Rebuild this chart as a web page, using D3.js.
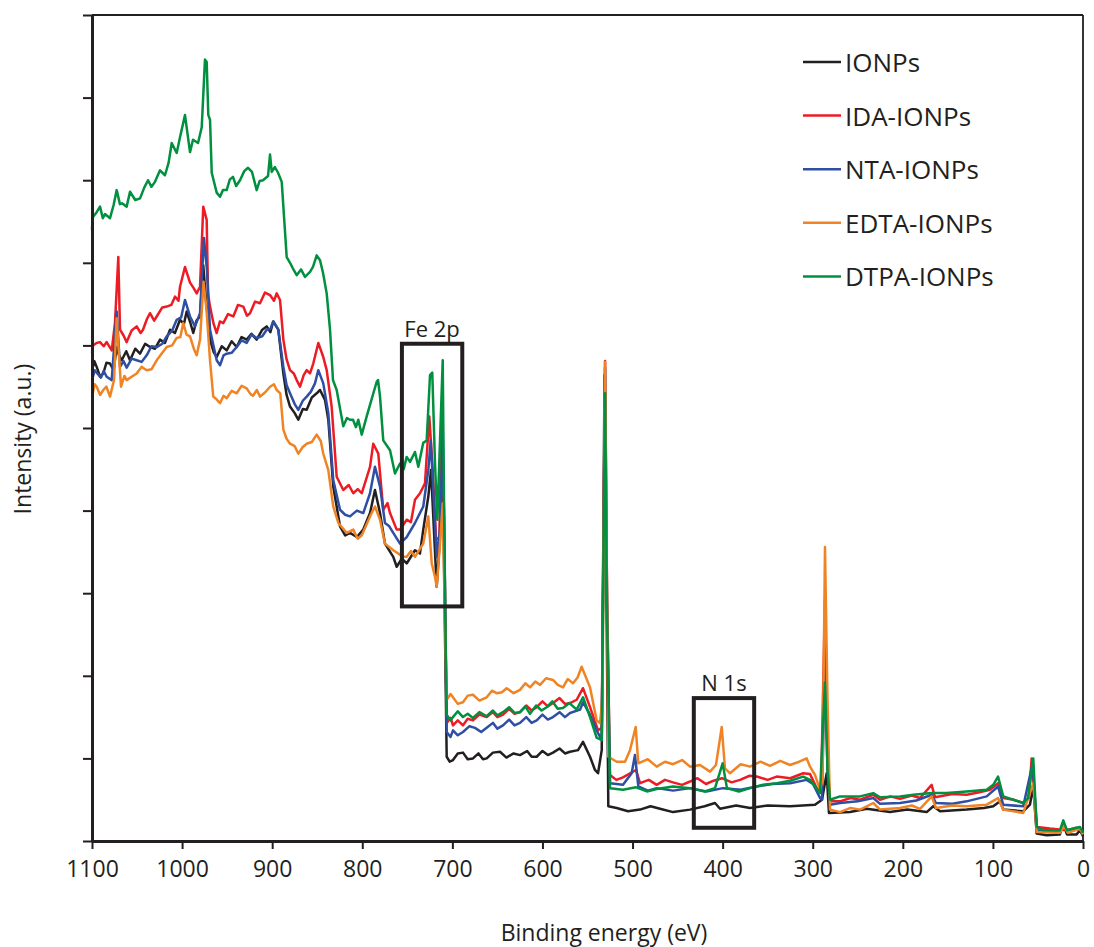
<!DOCTYPE html>
<html>
<head>
<meta charset="utf-8">
<script src="https://cdn.jsdelivr.net/npm/d3@7"></script>
<style>
  body { margin: 0; background: #fff; }
  text { font-family: "Open Sans", "Noto Sans", sans-serif; fill: #231f20; }
</style>
</head>
<body>
<div id="chart"></div>
<script>
// binding energy (eV), intensity (a.u.)
var ionps = [[1100,57.0],[1097.5,58.1],[1094.8,57.4],[1091,56.2],[1087.5,56.6],[1084,57.9],[1080,57.8],[1076,57.0],[1072.6,59.8],[1070,58.8],[1067,58.2],[1062,59.3],[1057.8,58.2],[1052,59.6],[1046.7,59.0],[1041,60.2],[1035.6,59.8],[1030,59.6],[1024.5,60.7],[1019,60.3],[1013.4,61.9],[1008,61.5],[1002.3,63.1],[998,62.6],[994.9,64.1],[991,62.8],[987.6,61.5],[984,63.0],[980.1,63.5],[976.5,69.7],[973.5,65.5],[969,60.7],[965,59.2],[961.6,58.6],[956,59.9],[950.5,59.4],[945,60.5],[939.4,59.8],[934,61.0],[928.3,60.7],[923,61.4],[917.2,60.7],[911,61.9],[906.1,62.3],[902,61.6],[898.8,62.9],[893.2,61.9],[887.6,56.6],[884,54.0],[880.2,52.6],[875,51.8],[871,51.0],[866,52.3],[861.7,52.2],[856,53.7],[850.6,54.2],[846.9,54.6],[841.4,53.4],[837.7,51.0],[832.2,42.9],[824.7,38.1],[819,37.0],[813.6,37.3],[806,36.8],[798.9,37.7],[791.4,39.7],[785.9,42.5],[780.3,39.7],[774.8,36.0],[765.6,34.4],[761.8,33.2],[756,34.2],[750.7,33.6],[741.5,35.2],[736,34.8],[732.3,37.7],[726.7,41.7],[723.7,44.9],[721.2,39.3],[717.4,30.8],[713.7,36.8],[710.7,45.8],[708.7,29.2],[706.3,10.2],[703,9.6],[699.3,9.8],[694,10.6],[688.2,10.7],[683,9.9],[677.1,10.0],[671,10.6],[666,9.9],[661.9,10.0],[655,10.7],[647.1,10.8],[640,10.1],[632,10.6],[624.9,10.4],[617,10.9],[612,10.2],[606.4,10.2],[600,10.9],[594,10.4],[588.3,10.7],[581,11.2],[575,10.6],[569.4,10.8],[560.5,11.0],[555,12.0],[547.2,10.2],[541.7,8.6],[538.3,8.2],[534.2,11.0],[531.1,56.4],[528.9,29.2],[526.9,4.2],[517.6,4.0],[505,3.6],[491.7,3.8],[480,4.2],[469.5,3.9],[455,3.5],[436.2,3.8],[420,4.2],[408.5,4.6],[402.9,3.9],[385,4.3],[369.6,4.0],[350,4.3],[325.2,4.2],[297.5,4.4],[289.7,5.0],[284.5,8.2],[282,3.4],[258.6,3.5],[240,3.9],[214.2,3.5],[195,3.8],[173.5,3.5],[166.2,4.2],[158.7,3.6],[129.1,3.8],[110,4.0],[99.6,4.2],[92.1,4.8],[88.5,3.8],[66.3,3.6],[58.9,4.4],[55.2,6.6],[51.4,0.9],[40.3,0.7],[25.6,0.8],[21.9,2.1],[17.8,0.8],[7.1,0.8],[3.4,1.3],[0,0.6]];

var idaIonps = [[1100,59.1],[1098.9,60.0],[1095,60.3],[1091.1,60.4],[1087,59.9],[1083.7,60.4],[1078.1,59.4],[1074.5,62.7],[1070.8,70.7],[1068.9,61.9],[1065,61.2],[1061.5,60.4],[1056,61.8],[1050.4,62.3],[1046,61.5],[1043.4,61.9],[1039,63.2],[1035.6,63.9],[1031,63.0],[1028.2,63.5],[1022,64.6],[1017.1,64.7],[1012,64.9],[1007.9,65.9],[1004,65.4],[1002.3,67.1],[996.8,69.5],[991.2,67.6],[987,66.9],[983.8,66.3],[980.1,67.1],[976.5,76.8],[972.7,75.2],[971.2,66.3],[969,64.7],[965,62.6],[961.6,61.5],[958,62.9],[954.3,62.7],[949,63.8],[943.2,63.5],[938,64.9],[932.1,64.7],[928,63.6],[924.6,63.9],[919,65.3],[913.5,65.1],[908,66.4],[902.4,66.1],[898,65.4],[895,66.3],[891.3,65.5],[887.6,60.7],[884,58.3],[880.2,57.0],[876,56.6],[872.8,55.8],[869.1,55.0],[865,56.4],[861.7,57.0],[858,56.6],[854.4,57.8],[848.8,60.3],[843.3,58.6],[839.5,57.0],[834,52.6],[828.4,44.1],[821.1,42.5],[815,43.1],[810,42.1],[805,42.6],[800.6,42.1],[791.4,45.3],[787.8,48.1],[782.2,46.9],[776.7,40.1],[772,40.9],[769.2,39.7],[761.8,37.7],[758.1,37.7],[750.7,38.9],[746,38.6],[741.5,41.3],[735.9,42.1],[730.4,43.3],[725.6,51.4],[721.8,44.9],[718.2,36.8],[714.5,36.4],[711.8,51.4],[709.3,39.7],[706.3,14.3],[702,14.9],[699.3,14.0],[694,14.6],[688.2,14.0],[683,14.8],[677.1,14.6],[670,15.3],[661.9,15.0],[655,15.6],[650,15.0],[643.8,15.3],[637,16.0],[631,15.4],[624.9,15.6],[618,16.4],[612,15.8],[606.4,16.2],[600,16.9],[594,16.3],[588.3,16.7],[581,17.3],[575,16.6],[569.4,16.7],[562,17.1],[555,18.5],[547.2,16.2],[538.3,13.4],[534.2,13.7],[530.5,58.1],[528.3,29.2],[525,8.0],[518,7.4],[510.6,7.7],[496.2,8.6],[491.7,7.0],[482,7.4],[473.2,6.8],[464,7.4],[455.1,7.1],[445,6.8],[436.2,7.2],[428,7.6],[418.5,6.9],[410,7.3],[400.7,7.6],[390,7.1],[380.7,7.4],[370,7.9],[362.2,7.8],[350,7.4],[340,7.8],[325,7.6],[310.5,8.2],[303,8.1],[295.6,6.4],[290.8,5.9],[286.4,29.2],[283.6,9.8],[280.8,4.8],[269.7,4.8],[258,5.2],[247.5,5.0],[232.8,5.6],[225.3,5.0],[214,5.4],[203.1,5.1],[190,5.5],[180.9,5.2],[168,6.8],[164.3,5.3],[145,5.7],[129.1,5.6],[115,5.9],[103.3,6.2],[94.3,7.0],[88.5,5.2],[77,5.0],[66.3,4.6],[60,5.2],[57,10.0],[53.3,5.0],[51.1,1.7],[36.6,1.5],[18.2,1.3],[7.1,1.6],[0,1.1]];

var ntaIonps = [[1100,55.8],[1097,57.0],[1094.8,56.7],[1090,56.1],[1087,56.9],[1083.7,56.2],[1078.1,55.8],[1072.6,64.1],[1068.9,57.4],[1065,58.1],[1061.5,57.3],[1056,58.4],[1050.4,58.2],[1045,58.0],[1039.3,58.8],[1034,59.9],[1028.2,59.8],[1022,60.2],[1017.1,61.1],[1011,61.8],[1006,63.1],[1001,63.4],[996.8,65.5],[991.2,63.5],[985.7,62.3],[980.1,63.9],[975.7,73.0],[972.4,69.1],[969,61.9],[961.6,58.2],[957.9,57.6],[954,58.8],[950.5,59.0],[945,59.1],[939.4,59.8],[934,60.6],[928.3,60.3],[923,61.3],[917.2,60.9],[911,61.1],[906.1,61.9],[902,62.0],[898.8,62.9],[893.2,61.9],[887.6,57.4],[884,55.2],[880.2,54.2],[875,52.9],[871,52.2],[866,53.3],[861.7,53.8],[857,54.4],[852.5,55.4],[848.8,57.0],[843.3,55.4],[837.7,51.8],[832.2,43.7],[824.7,40.1],[819,39.5],[813.6,39.3],[806,40.0],[798.9,39.7],[791.4,42.1],[785.9,45.3],[780.3,42.9],[774.8,38.5],[770,38.1],[765.6,37.3],[758.1,36.0],[750.7,36.8],[741.5,38.5],[732.3,40.5],[726.7,44.9],[724,48.5],[721.2,42.5],[717.4,34.4],[713.7,37.7],[710.7,49.8],[708.9,36.4],[706.3,13.2],[702,12.6],[699.3,13.4],[694,12.8],[688.2,13.2],[681,13.9],[674.9,13.7],[668,13.2],[661.9,13.7],[655,14.3],[650,13.6],[643.8,14.0],[637,14.7],[631,14.0],[624.9,14.3],[618,15.0],[612,14.3],[606.4,14.6],[600,15.3],[594,14.7],[588.3,15.0],[581,15.6],[575,15.0],[569.4,15.5],[558.3,15.9],[555,16.8],[547.2,15.3],[539.8,13.4],[534.2,12.2],[530.5,57.3],[528.3,29.2],[525,7.0],[510.6,6.8],[501,8.2],[497.3,10.4],[493.6,6.6],[483,6.1],[473.2,6.4],[455,6.1],[436.2,6.4],[418,6.0],[399.6,6.4],[380,6.2],[362.2,6.6],[345,6.9],[325.2,7.0],[306.7,7.4],[299.7,6.9],[291.9,5.2],[289.7,5.0],[286.4,23.1],[283.6,8.6],[280.8,4.4],[269.7,4.6],[250,4.8],[232.8,5.2],[225.3,4.5],[203.1,4.6],[185,4.9],[168,5.6],[163.2,4.6],[145,4.5],[129.1,4.8],[106.9,5.4],[94.3,6.6],[88.5,4.4],[66.3,4.2],[55.9,9.4],[51.4,1.3],[25.6,1.1],[21.9,2.1],[16.7,1.1],[3.4,1.5],[0,1.0]];

var edtaIonps = [[1100,53.8],[1097,55.3],[1094.8,55.0],[1091,54.0],[1087.5,54.6],[1084,55.0],[1080,53.8],[1075.6,55.8],[1072.6,63.3],[1067.8,55.0],[1064,56.3],[1061.5,55.8],[1056,56.2],[1050.4,56.6],[1045,57.4],[1039.3,57.0],[1034,57.1],[1028.2,58.2],[1022,59.1],[1017.1,59.8],[1011,60.0],[1006,60.9],[1002,61.0],[998.7,62.7],[995,61.3],[991.2,61.1],[987,59.6],[983.8,58.8],[980.1,60.7],[976.2,67.7],[972.9,64.3],[969,58.2],[965.4,53.8],[962,53.5],[957.9,53.0],[954,53.9],[950.5,53.6],[945,54.5],[939.4,54.2],[934,55.1],[928.3,54.8],[924,54.1],[921.3,53.9],[917,54.6],[913.5,53.8],[908,54.3],[902.4,55.0],[898,55.3],[895,54.6],[891,54.2],[887.6,49.8],[884,48.7],[880.2,48.1],[875,47.8],[871,46.9],[866,47.7],[861.7,48.1],[856,48.3],[850.6,49.2],[846,48.4],[843.3,46.9],[837.7,44.9],[832.2,40.5],[826.6,38.5],[817.3,37.3],[810,37.7],[805,36.6],[800.6,37.0],[791.4,39.3],[785.9,40.5],[780.3,38.9],[774.8,36.0],[765.6,35.2],[754.5,34.4],[750.7,34.4],[746,35.1],[741.5,34.4],[732.3,36.0],[726.7,39.3],[722.9,33.6],[719.3,32.0],[717.4,30.8],[713.7,36.0],[710.7,40.9],[708.7,29.2],[706.3,17.1],[702,17.8],[699.3,17.4],[694,16.6],[688.2,16.8],[683,17.6],[677.1,17.7],[670,17.0],[661.9,17.4],[656,18.2],[650.8,17.9],[645,18.0],[639.7,18.5],[632,17.9],[624.9,18.3],[619,19.1],[613.8,18.6],[608,19.3],[602.7,18.9],[596,19.7],[588.3,19.5],[583,18.9],[577.2,18.6],[572,19.6],[566.1,19.1],[561,19.8],[556.5,21.1],[547.2,18.6],[539.8,14.6],[536.1,14.3],[533.4,17.1],[530.5,58.0],[528.3,29.2],[526.9,10.2],[517.6,9.6],[508.4,9.6],[502.8,11.0],[496.5,13.8],[493.6,9.4],[483,9.9],[473.2,9.0],[464,9.6],[455.1,9.3],[445,9.8],[436.2,9.0],[425.1,9.2],[414,8.4],[407.4,9.2],[401,13.8],[397.4,8.8],[391.8,8.2],[380,9.3],[369.6,9.0],[358,9.6],[347.4,9.1],[336,9.7],[325.2,9.2],[315,9.6],[306.7,10.0],[303,9.0],[297.5,8.0],[291.9,6.2],[289.1,7.4],[286.4,35.6],[283.6,17.1],[280.8,3.8],[269.7,3.5],[258,4.0],[247.5,3.8],[232.8,4.6],[225.3,3.8],[203.1,4.0],[190,4.3],[180.9,3.9],[168,5.4],[163.2,4.0],[145,4.3],[129.1,4.2],[106.9,4.4],[94.3,5.2],[88.5,3.8],[66.3,3.4],[55.2,7.0],[51.4,1.1],[25.6,1.0],[21.1,1.8],[16.7,1.0],[3.4,1.5],[0,0.8]];

var dtpaIonps = [[1100,74.0],[1099.4,75.5],[1095,76.1],[1091.1,76.8],[1088,75.4],[1085.6,75.9],[1080,75.4],[1076,77.0],[1072.6,78.8],[1069,77.1],[1066.7,77.2],[1061.5,76.8],[1057.8,78.6],[1052,77.6],[1046.7,77.8],[1042,79.1],[1037.8,80.0],[1034,79.2],[1030.1,79.8],[1024.5,81.2],[1019,80.6],[1015,82.1],[1011.5,84.5],[1006,83.3],[1002.3,85.2],[996.8,87.9],[991.2,83.4],[987.9,84.9],[982.3,84.5],[978.2,86.4],[974.6,94.6],[972.7,94.3],[970.9,87.9],[969,87.3],[967.1,80.9],[961.6,78.5],[957.9,78.0],[954.6,78.8],[950.5,78.8],[947,80.1],[943.5,80.4],[940,79.3],[935.7,80.0],[931,81.1],[926.8,81.5],[922.4,81.0],[917.2,78.8],[914,79.9],[910.2,80.0],[904.6,80.5],[902.4,83.1],[900.5,81.0],[897,81.6],[893.5,80.9],[889.4,79.8],[883.9,70.7],[880.2,70.0],[876,69.1],[872.8,68.5],[868,69.2],[863.6,68.3],[858,68.9],[854.7,69.5],[850.6,70.9],[846.9,70.3],[843.6,68.8],[839.5,66.3],[835.8,61.9],[832.5,55.8],[828.4,54.6],[821.1,50.2],[817,51.2],[813.6,51.0],[810.3,51.0],[807,50.1],[804.4,51.0],[800.6,49.2],[795.1,51.4],[784,55.6],[782.5,55.8],[780.3,53.8],[776.7,48.5],[769.2,47.3],[763.7,44.5],[758.1,45.7],[754,45.0],[750.7,46.5],[747,45.9],[741.5,47.1],[737.8,45.3],[732.3,48.2],[728.5,48.5],[724.8,56.4],[722.3,56.7],[719.3,45.8],[716.7,38.9],[713.7,48.5],[710.7,58.2],[709.3,41.6],[707.8,26.8],[706.3,15.3],[702,14.6],[699.3,15.0],[694,15.7],[688.2,15.0],[683,15.4],[677.1,14.9],[670,15.6],[661.9,15.1],[655,15.8],[650,15.2],[643.8,15.6],[637,16.2],[631,15.5],[624.9,15.6],[619,16.3],[613.8,15.4],[607,16.4],[601,15.8],[595.3,16.2],[589,16.9],[583,16.0],[577.2,16.1],[570,16.7],[562,15.9],[555,17.4],[547.2,15.0],[539.8,12.5],[534.2,12.2],[530.5,54.2],[528.3,26.8],[525,6.4],[510.6,6.2],[496.2,6.5],[484,6.0],[473.2,6.3],[455,6.6],[436.2,6.4],[420,6.0],[408.5,6.4],[400,9.4],[395.2,6.4],[382,6.0],[369.6,6.4],[355,6.8],[340,7.0],[325,7.3],[310.6,7.8],[303,7.4],[291.9,5.8],[286.4,19.2],[283.6,8.6],[280.8,5.0],[269.7,5.4],[247.5,5.4],[232.8,5.8],[225.3,5.3],[203.1,5.4],[188.3,5.6],[168,5.8],[151.4,5.8],[129.1,6.0],[106.9,6.2],[99.6,6.8],[94.3,7.8],[88.5,5.4],[77.4,5.0],[66.3,4.6],[61.1,5.2],[55.2,10.0],[51.4,1.7],[44,1.3],[25.6,1.3],[21.9,2.5],[17.8,1.3],[7.1,1.6],[3.4,1.7],[0,1.0]];

var seriesNames = ["IONPs", "IDA-IONPs", "NTA-IONPs", "EDTA-IONPs", "DTPA-IONPs"];
var seriesColors = ["#231f20", "#ed1c24", "#2e4fa3", "#f08424", "#00903f"];
var seriesData = [ionps, idaIonps, ntaIonps, edtaIonps, dtpaIonps];

var xTicks = [1100, 1000, 900, 800, 700, 600, 500, 400, 300, 200, 100, 0];
var yTicks = [0, 10, 20, 30, 40, 50, 60, 70, 80, 90, 100];

// marked regions: label, energy range, intensity range
var regions = [
    {label: "Fe 2p", e0: 756, e1: 689, i0: 28.4, i1: 60.2},
    {label: "N 1s", e0: 432, e1: 365, i0: 1.6, i1: 17.3}
];

var width = 1094, height = 947
var plotLeft = 92, plotRight = 1083, plotTop = 15, plotBottom = 841

var svg = d3.select("#chart").append("svg")
    .attr("width", width)
    .attr("height", height)

var x = d3.scaleLinear().domain([1100, 0]).range([plotLeft, plotRight])
var y = d3.scaleLinear().domain([0, 100]).range([plotBottom, plotTop])

// frame top and right
svg.append("line")
    .attr("x1", plotLeft).attr("x2", plotRight)
    .attr("y1", plotTop).attr("y2", plotTop)
    .attr("stroke", "#231f20").attr("stroke-width", 2.2)
svg.append("line")
    .attr("x1", plotRight).attr("x2", plotRight)
    .attr("y1", plotTop).attr("y2", plotBottom)
    .attr("stroke", "#231f20").attr("stroke-width", 1.8)

// spectra
var line = d3.line()
    .x(function(d) { return x(d[0]) })
    .y(function(d) { return y(d[1]) })

svg.append("g")
    .selectAll("path")
    .data(seriesData)
    .enter().append("path")
    .attr("d", line)
    .attr("fill", "none")
    .attr("stroke", function(d, i) { return seriesColors[i] })
    .attr("stroke-width", 2.5)
    .attr("stroke-linejoin", "round")

// axes
var xAxis = svg.append("g")
    .attr("transform", "translate(0," + plotBottom + ")")
    .call(d3.axisBottom(x).tickValues(xTicks).tickFormat(d3.format("d"))
        .tickSize(8).tickSizeOuter(0).tickPadding(12))
xAxis.select(".domain").attr("stroke", "#231f20").attr("stroke-width", 3)
xAxis.selectAll(".tick line").attr("stroke", "#231f20").attr("stroke-width", 2)
xAxis.selectAll(".tick text")
    .attr("font-size", 23)
    .attr("font-family", "Open Sans")
    .attr("fill", "#231f20")

var yAxis = svg.append("g")
    .attr("transform", "translate(" + plotLeft + ",0)")
    .call(d3.axisLeft(y).tickValues(yTicks).tickSize(9).tickSizeOuter(0).tickFormat(""))
yAxis.select(".domain").attr("stroke", "#231f20").attr("stroke-width", 3)
yAxis.selectAll(".tick line").attr("stroke", "#231f20").attr("stroke-width", 2)

// axis titles
svg.append("text")
    .attr("x", 604)
    .attr("y", 941)
    .attr("text-anchor", "middle")
    .attr("font-size", 23)
    .text("Binding energy (eV)")

svg.append("text")
    .attr("transform", "translate(31,439) rotate(-90)")
    .attr("text-anchor", "middle")
    .attr("font-size", 23)
    .text("Intensity (a.u.)")

// region boxes
var reg = svg.append("g")
reg.selectAll("rect")
    .data(regions)
    .enter().append("rect")
    .attr("x", function(d) { return x(d.e0) })
    .attr("y", function(d) { return y(d.i1) })
    .attr("width", function(d) { return x(d.e1) - x(d.e0) })
    .attr("height", function(d) { return y(d.i0) - y(d.i1) })
    .attr("fill", "none")
    .attr("stroke", "#231f20")
    .attr("stroke-width", 4)
reg.selectAll("text")
    .data(regions)
    .enter().append("text")
    .attr("x", function(d) { return (x(d.e0) + x(d.e1)) / 2 })
    .attr("y", function(d) { return y(d.i1) - 7 })
    .attr("text-anchor", "middle")
    .attr("font-size", 22)
    .text(function(d) { return d.label })

// legend
var legend = svg.append("g")
    .selectAll("g")
    .data(seriesNames)
    .enter().append("g")
    .attr("transform", function(d, i) { return "translate(803," + (62 + i * 53.6) + ")" })
legend.append("line")
    .attr("x1", 0).attr("x2", 38)
    .attr("stroke", function(d, i) { return seriesColors[i] })
    .attr("stroke-width", 2.5)
legend.append("text")
    .attr("x", 42)
    .attr("y", 10)
    .attr("font-size", 26)
    .text(function(d) { return d })
</script>
</body>
</html>
